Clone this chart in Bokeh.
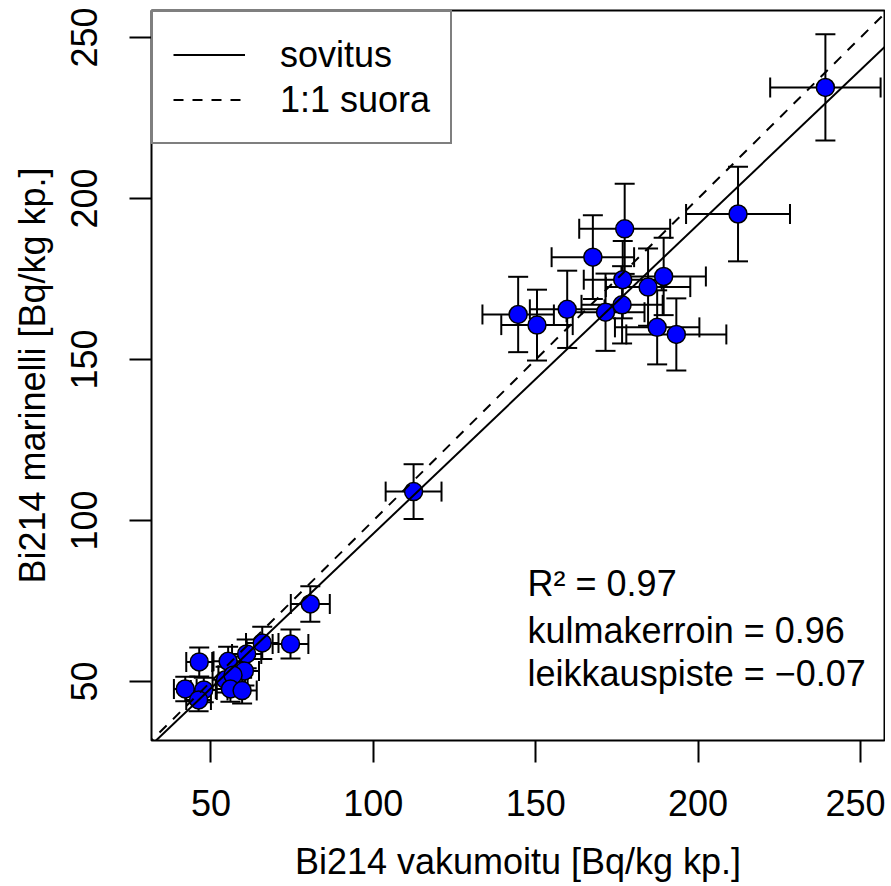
import numpy as np
from bokeh.plotting import figure
from bokeh.models import (ColumnDataSource, Whisker, TeeHead, FixedTicker, Range1d,
                          Label, Legend, LegendItem)
from bokeh.embed import file_html
from bokeh.resources import INLINE

# ---- data ----
vakumoitu = [239.2, 212.3, 177.4, 167.6, 176.8, 184.6, 189.4, 144.6, 150.4, 159.7,
             171.5, 176.6, 187.4, 193.3, 112.4, 80.6, 74.5, 65.8, 61.0, 55.3,
             46.4, 60.3, 54.5, 56.8, 56.0, 59.6, 42.1, 47.8, 46.2]
marinelli = [234.5, 195.2, 190.6, 181.8, 174.8, 172.5, 175.8, 164.0, 160.7, 165.6,
             164.7, 167.0, 160.0, 157.8, 109.0, 74.1, 61.7, 62.0, 58.6, 56.3,
             56.1, 53.3, 50.6, 52.0, 47.7, 47.2, 47.7, 47.4, 44.3]
vakumoitu_err = [17, 16, 14, 12.7, 12, 13, 13, 11, 11, 11.5,
                 12, 12.5, 13, 15.4, 8.6, 6, 5.5, 5, 4.5, 4.5,
                 4, 4.5, 4, 4.5, 4.5, 4.5, 3.5, 4, 3.8]
marinelli_err = [16.5, 14.7, 14, 13, 12, 12, 12, 11.7, 11, 12,
                 12, 12, 11.5, 11.2, 8.5, 5.5, 4.5, 5, 4.5, 4.5,
                 4.5, 4.5, 4, 4, 4, 4, 3.8, 3.8, 3.5]
fit_slope = 0.96
fit_intercept = -0.07
r2 = 0.97
ticks = [50, 100, 150, 200, 250]
x_title = "Bi214 vakumoitu [Bq/kg kp.]"
y_title = "Bi214 marinelli [Bq/kg kp.]"

X_LO, X_HI = 31.7, 257.4
Y_LO, Y_HI = 31.7, 258.4
FONT = "Liberation Sans"

x = np.array(vakumoitu)
y = np.array(marinelli)
xe = np.array(vakumoitu_err)
ye = np.array(marinelli_err)
src = ColumnDataSource(dict(x=x, y=y, xl=x - xe, xu=x + xe, yl=y - ye, yu=y + ye))

p = figure(width=885, height=886, output_backend="svg", toolbar_location=None,
           x_range=Range1d(X_LO, X_HI), y_range=Range1d(Y_LO, Y_HI),
           min_border_left=151, min_border_right=1, min_border_top=10,
           min_border_bottom=146)
p.grid.visible = False
p.outline_line_color = "black"
p.outline_line_width = 2
p.background_fill_color = "white"
p.border_fill_color = "white"

for ax in (p.xaxis[0], p.yaxis[0]):
    ax.ticker = FixedTicker(ticks=ticks)
    ax.axis_line_color = None
    ax.major_tick_out = 22
    ax.major_tick_in = 0
    ax.major_tick_line_width = 2
    ax.major_tick_line_color = "black"
    ax.minor_tick_line_color = None
    ax.major_label_text_font = FONT
    ax.major_label_text_font_size = "36px"
    ax.major_label_text_color = "black"
    ax.axis_label_text_font = FONT
    ax.axis_label_text_font_size = "36px"
    ax.axis_label_text_font_style = "normal"
    ax.axis_label_text_color = "black"

p.xaxis.axis_label = x_title
p.yaxis.axis_label = y_title
p.xaxis.major_label_standoff = 27
p.xaxis.axis_label_standoff = 22
p.yaxis.major_label_orientation = "parallel"
p.yaxis.major_label_standoff = 32
p.yaxis.axis_label_standoff = 16

# error bars
def tee():
    return TeeHead(size=20, line_width=2, line_color="black")

hw = Whisker(source=src, base="y", lower="xl", upper="xu", dimension="width",
             line_width=2, line_color="black", lower_head=tee(), upper_head=tee())
vw = Whisker(source=src, base="x", lower="yl", upper="yu", dimension="height",
             line_width=2, line_color="black", lower_head=tee(), upper_head=tee())
hw.level = "underlay"
vw.level = "underlay"
p.add_layout(hw)
p.add_layout(vw)

p.scatter("x", "y", source=src, size=18, fill_color="#0000FF",
          line_color="black", line_width=1.5)

# lines
lx = np.array([X_LO - 10, X_HI + 10])
fit_r = p.line(lx, fit_slope * lx + fit_intercept, line_color="black", line_width=2)
one_r = p.line(lx, lx, line_color="black", line_width=2, line_dash="10 9")

legend = Legend(items=[LegendItem(label="sovitus", renderers=[fit_r]),
                       LegendItem(label="1:1 suora", renderers=[one_r])],
                location="top_left")
legend.margin = 0
legend.padding = 20
legend.spacing = 0
legend.glyph_width = 72
legend.glyph_height = 45
legend.label_height = 45
legend.label_standoff = 35
legend.label_text_font = FONT
legend.label_text_font_size = "36px"
legend.label_text_color = "black"
legend.border_line_color = "black"
legend.border_line_width = 2
legend.background_fill_color = "white"
legend.background_fill_alpha = 1
p.add_layout(legend)

stats = ["R\u00b2 = %.2f" % r2,
         "kulmakerroin = %.2f" % fit_slope,
         "leikkauspiste = \u2212%.2f" % abs(fit_intercept)]
ty = [80.6, 66.0, 52.5]
for t, yy in zip(stats, ty):
    p.add_layout(Label(x=147.5, y=yy, text=t, text_font=FONT, text_font_size="36px",
                       text_baseline="middle", text_align="left", text_color="black"))

open("out.html", "w").write(file_html(p, INLINE))
